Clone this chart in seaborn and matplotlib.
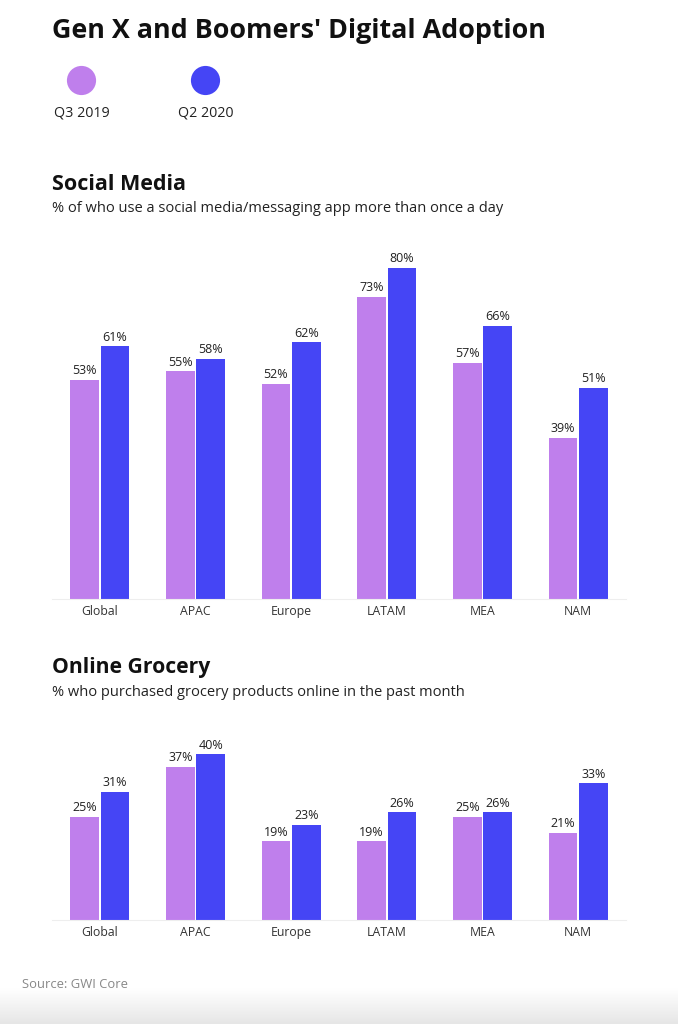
import numpy as np
import pandas as pd
import seaborn as sns
import matplotlib.pyplot as plt
from matplotlib.lines import Line2D
from matplotlib.colors import LinearSegmentedColormap

# datos
regions = ["Global", "APAC", "Europe", "LATAM", "MEA", "NAM"]
periods = ["Q3 2019", "Q2 2020"]
social_q3_2019 = [53, 55, 52, 73, 57, 39]
social_q2_2020 = [61, 58, 62, 80, 66, 51]
grocery_q3_2019 = [25, 37, 19, 19, 25, 21]
grocery_q2_2020 = [31, 40, 23, 26, 26, 33]

purple = "#bf7fec"
blue = "#4545f5"
colors = {"Q3 2019": purple, "Q2 2020": blue}


def long_df(a, b):
    return pd.DataFrame({
        "region": regions * 2,
        "period": [periods[0]] * len(regions) + [periods[1]] * len(regions),
        "value": a + b,
    })


sns.set_theme(style="white")
plt.rcParams["font.family"] = ["Open Sans", "DejaVu Sans"]

W, H = 678, 1024
fig = plt.figure(figsize=(W / 100, H / 100), dpi=100)


def fy(px):
    return 1 - px / H


def fx(px):
    return px / W


def draw_panel(df, bottom_px, ymax):
    height_px = 4.14 * ymax
    ax = fig.add_axes([fx(52), fy(bottom_px), fx(574), height_px / H])
    sns.barplot(data=df, x="region", y="value", hue="period", order=regions,
                hue_order=periods, palette=colors, width=0.636, gap=0.063,
                saturation=1, linewidth=0, legend=False, ax=ax)
    for c in ax.containers:
        ax.bar_label(c, fmt="%d%%", padding=2, fontsize=9, color="#222222")
    ax.set_ylim(0, ymax)
    ax.set_xlim(-0.5, len(regions) - 0.5)
    ax.set_xlabel("")
    ax.set_ylabel("")
    ax.set_yticks([])
    for s in ["top", "left", "right"]:
        ax.spines[s].set_visible(False)
    ax.spines["bottom"].set_color("#eeeeee")
    ax.spines["bottom"].set_linewidth(0.8)
    ax.tick_params(axis="x", length=0, pad=4, labelsize=8.8, labelcolor="#333333")
    return ax


draw_panel(long_df(social_q3_2019, social_q2_2020), 599, 90)
draw_panel(long_df(grocery_q3_2019, grocery_q2_2020), 920, 44.5)

# textos
fig.text(fx(52), fy(31), "Gen X and Boomers' Digital Adoption", fontsize=19.4,
         fontweight="bold", color="#111111", va="center")
fig.text(fx(52), fy(184), "Social Media", fontsize=15.5, fontweight="bold",
         color="#111111", va="center")
fig.text(fx(52), fy(208), "% of who use a social media/messaging app more than once a day",
         fontsize=10.55, color="#222222", va="center")
fig.text(fx(52), fy(667), "Online Grocery", fontsize=15.2, fontweight="bold",
         color="#111111", va="center")
fig.text(fx(52), fy(692), "% who purchased grocery products online in the past month",
         fontsize=10.55, color="#222222", va="center")
fig.text(fx(22), fy(985), "Source: GWI Core", fontsize=9.4, color="#888888", va="center")

# leyenda
for xpx, p in zip([81, 205], periods):
    fig.add_artist(Line2D([fx(xpx)], [fy(80)], marker="o", markersize=21,
                          markerfacecolor=colors[p], markeredgewidth=0,
                          linestyle="", transform=fig.transFigure))
    fig.text(fx(xpx + 1), fy(113), p, fontsize=10.3, color="#222222",
             ha="center", va="center")

# degradado inferior
gax = fig.add_axes([0, 0, 1, 36 / H], zorder=-1)
cmap = LinearSegmentedColormap.from_list("g", ["#e6e6e6", "#ffffff"])
gax.imshow(np.linspace(0, 1, 50).reshape(-1, 1), aspect="auto", cmap=cmap,
           origin="lower", extent=[0, 1, 0, 1])
gax.axis("off")

fig.savefig("out.png", dpi=100)
